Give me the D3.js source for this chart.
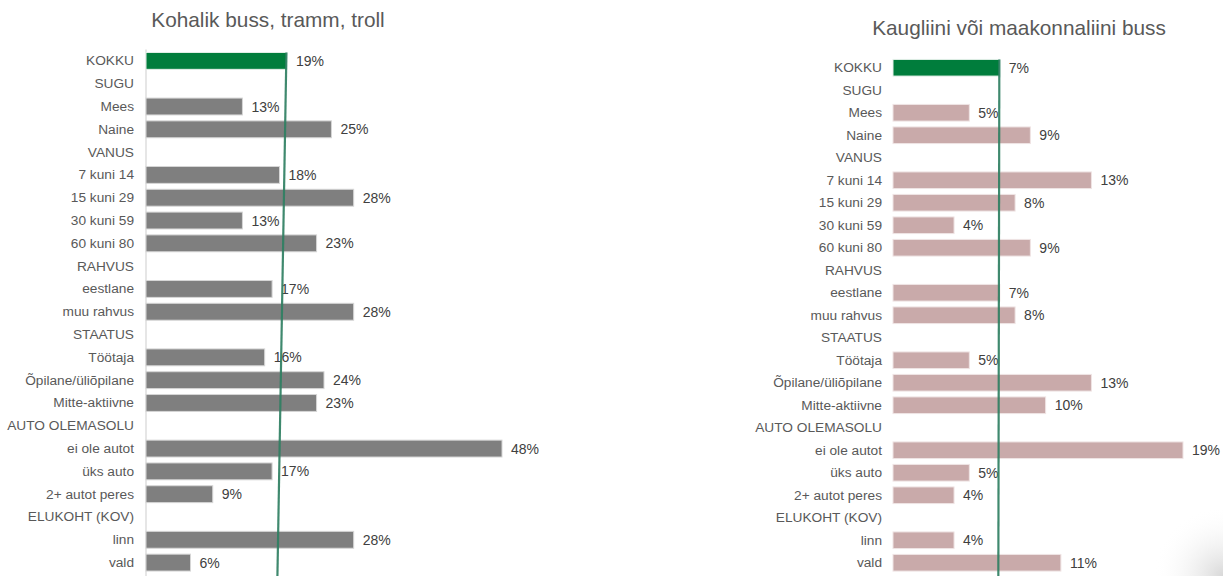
<!DOCTYPE html>
<html>
<head>
<meta charset="utf-8">
<script src="https://cdn.jsdelivr.net/npm/d3@7/dist/d3.min.js"></script>
<style>
  html, body { margin: 0; padding: 0; background: #ffffff; }
  svg { display: block; font-family: "Liberation Sans", Arial, sans-serif; }
</style>
</head>
<body>
<svg id="chart" width="1223" height="576"></svg>
<script>
// Row labels (group headers carry no value)
const categories = [
  "KOKKU", "SUGU", "Mees", "Naine", "VANUS", "7 kuni 14", "15 kuni 29",
  "30 kuni 59", "60 kuni 80", "RAHVUS", "eestlane", "muu rahvus", "STAATUS",
  "Töötaja", "Õpilane/üliõpilane", "Mitte-aktiivne", "AUTO OLEMASOLU",
  "ei ole autot", "üks auto", "2+ autot peres", "ELUKOHT (KOV)", "linn", "vald"
];

// Share using local bus / tram / trolley (%)
const localValues = [
  19, null, 13, 25, null, 18, 28, 13, 23, null, 17, 28, null,
  16, 24, 23, null, 48, 17, 9, null, 28, 6
];

// Share using long-distance or county bus (%)
const longValues = [
  7, null, 5, 9, null, 13, 8, 4, 9, null, 7, 8, null,
  5, 13, 10, null, 19, 5, 4, null, 4, 11
];

const titles = ["Kohalik buss, tramm, troll", "Kaugliini või maakonnaliini buss"];

const svg = d3.select("#chart");

// faint page shadow in the lower right corner
const defs = svg.append("defs");
const grad = defs.append("radialGradient").attr("id", "corner")
  .attr("cx", 1).attr("cy", 1).attr("r", 1);
grad.append("stop").attr("offset", "0%").attr("stop-color", "#d8d8d8").attr("stop-opacity", 1);
grad.append("stop").attr("offset", "100%").attr("stop-color", "#ffffff").attr("stop-opacity", 0);
svg.append("rect").attr("x", 1153).attr("y", 506).attr("width", 70).attr("height", 70)
  .attr("fill", "url(#corner)");

function panel(cfg) {
  const g = svg.append("g");
  const rows = categories.map((c, i) => ({ cat: c, value: cfg.values[i] }));

  const x = d3.scaleLinear().domain([0, cfg.maxValue]).range([cfg.x0, cfg.x1]);
  const y = d3.scaleBand().domain(categories).range([cfg.y0, cfg.y1]).paddingInner(0.26).paddingOuter(0.13);

  // title
  g.append("text")
    .attr("x", cfg.titleX).attr("y", cfg.titleY)
    .attr("text-anchor", "middle")
    .attr("font-size", 20.8)
    .attr("fill", "#595959")
    .text(cfg.title);

  // category axis
  const axis = d3.axisLeft(y).tickSize(0).tickPadding(cfg.pad);
  const ax = g.append("g").attr("transform", `translate(${cfg.x0},0)`).call(axis);
  ax.select(".domain").attr("stroke", cfg.axisColor).attr("stroke-width", 1.3)
    .attr("d", `M0,${cfg.y0}V576`);
  ax.selectAll("text").attr("font-size", 13.7).attr("fill", "#595959")
    .attr("font-family", '"Liberation Sans", Arial, sans-serif');

  const withValue = rows.filter(d => d.value != null);

  g.selectAll("rect.bar").data(withValue).enter().append("rect")
    .attr("class", "bar")
    .attr("x", x(0))
    .attr("y", d => y(d.cat))
    .attr("width", d => x(d.value) - x(0))
    .attr("height", y.bandwidth())
    .attr("fill", (d, i) => i === 0 ? "#007d3c" : cfg.color)
    .attr("stroke", (d, i) => i === 0 ? "#e6f0ea" : cfg.edge)
    .attr("stroke-width", 1);

  g.selectAll("text.val").data(withValue).enter().append("text")
    .attr("class", "val")
    .attr("x", d => x(d.value) + 9)
    .attr("y", d => y(d.cat) + y.bandwidth() / 2)
    .attr("dy", "0.36em")
    .attr("font-size", 14)
    .attr("fill", "#404040")
    .text(d => d3.format("d")(d.value) + "%");

  // reference line at the overall (KOKKU) level
  const total = cfg.values[0];
  g.append("line")
    .attr("x1", x(total) - 0.5).attr("y1", y(categories[0]))
    .attr("x2", x(total) - 0.5 - cfg.tilt).attr("y2", 576)
    .attr("stroke", "#2f7f62").attr("stroke-opacity", 0.92)
    .attr("stroke-width", 2.2);
}

panel({
  title: titles[0], titleX: 268, titleY: 27,
  values: localValues, maxValue: 48,
  x0: 146, x1: 502, y0: 49.5, y1: 574, pad: 12,
  color: "#7f7f7f", edge: "#d6d6d6", axisColor: "#d9d9d9", tilt: 9
});

panel({
  title: titles[1], titleX: 1019, titleY: 35,
  values: longValues, maxValue: 19,
  x0: 893, x1: 1183, y0: 56.5, y1: 574, pad: 11,
  color: "#c9aaaa", edge: "#efe4e4", axisColor: "#ffffff", tilt: 1
});
</script>
</body>
</html>
